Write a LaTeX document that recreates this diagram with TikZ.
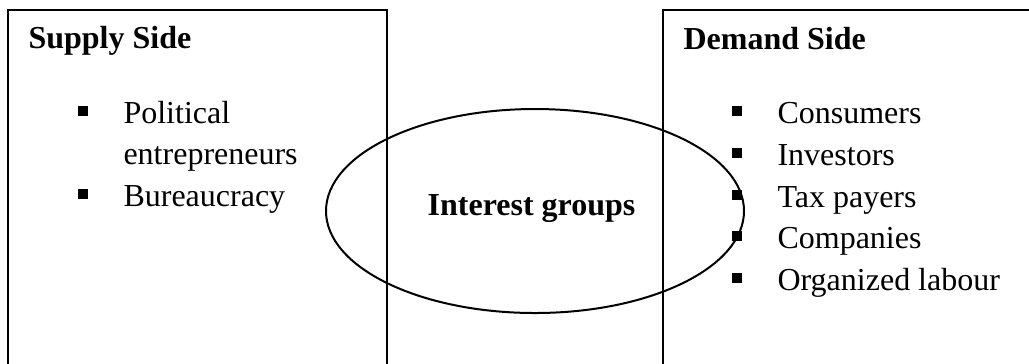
\documentclass[tikz,border=0pt]{standalone}
\usepackage{fontspec}
\setmainfont{Liberation Serif}
\usetikzlibrary{shapes.geometric}
\begin{document}
\begin{tikzpicture}[x=0.375pt,y=-0.375pt,
  txt/.style={inner sep=0pt, anchor=base west, font=\fontsize{12}{14}\selectfont},
  head/.style={txt, font=\fontsize{12}{14}\selectfont\bfseries},
  sq/.style={fill=black, inner sep=0pt, minimum size=3.4pt, rectangle},
  frame/.style={draw=black, line width=0.75pt, rectangle, anchor=north west, inner sep=0pt}]
\useasboundingbox (0,0) rectangle (1029,363);
\clip (0,0) rectangle (1029,363);
% boxes (open at the cropped sides)
\node[frame, minimum width=142.125pt, minimum height=154pt] (supply) at (7,9) {};
\node[frame, minimum width=164.25pt, minimum height=154pt] (demand) at (662,9) {};
% headings
\node[head] (sh) at (28,48) {Supply Side};
\node[head] (dh) at (683,49) {Demand Side};
% supply list
\node[sq] (sb1) at (83,111) {};
\node[txt] (s1) at (123,123) {Political};
\node[txt] (s1b) at (123,164) {entrepreneurs};
\node[sq] (sb2) at (83,194) {};
\node[txt] (s2) at (123,206) {Bureaucracy};
% demand list
\node[sq] (db1) at (737,111) {};
\node[txt] (d1) at (777,123) {Consumers};
\node[sq] (db2) at (737,153) {};
\node[txt] (d2) at (777,165) {Investors};
\node[sq] (db3) at (737,195) {};
\node[txt] (d3) at (777,207) {Tax payers};
\node[sq] (db4) at (737,236) {};
\node[txt] (d4) at (777,248) {Companies};
\node[sq] (db5) at (737,278) {};
\node[txt] (d5) at (777,290) {Organized labour};
% ellipse
\node[draw=black, ellipse, line width=0.75pt, minimum width=156.75pt, minimum height=76.5pt, inner sep=0pt] (ell) at (535,211) {};
\node[head, anchor=base] (ig) at (531.5,215) {Interest groups};
\end{tikzpicture}
\end{document}
